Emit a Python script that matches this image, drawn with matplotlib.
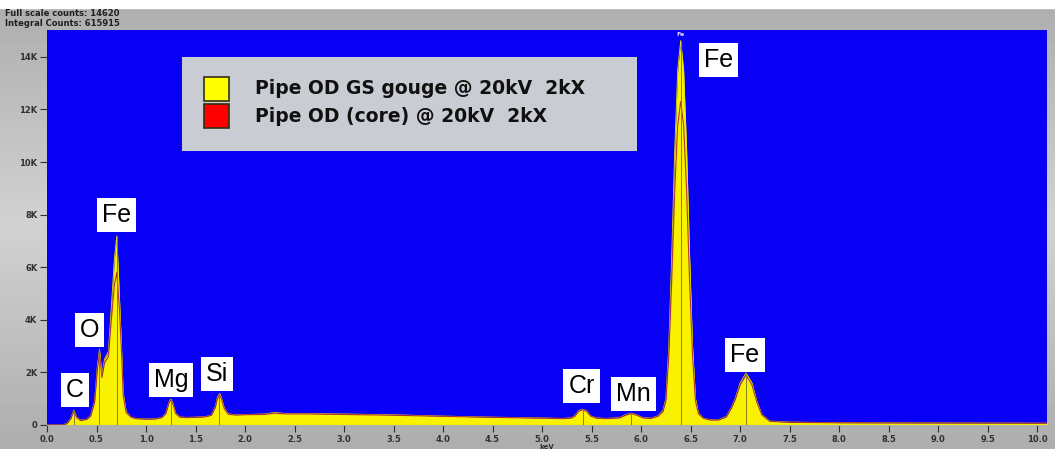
import matplotlib as mpl
mpl.use('Agg')
import matplotlib.pyplot as plt
from matplotlib.patches import Rectangle
import numpy as np

# spectrum: energy (keV) and counts
kev = [0.00, 0.15, 0.20, 0.24, 0.27, 0.30, 0.34, 0.40, 0.44, 0.48, 0.51, 0.53,
       0.555, 0.58, 0.62, 0.65, 0.68, 0.705, 0.73, 0.75, 0.77, 0.80, 0.85, 0.90,
       1.00, 1.10, 1.16, 1.20, 1.23, 1.25, 1.27, 1.30, 1.34, 1.40, 1.50, 1.60,
       1.66, 1.70, 1.72, 1.745, 1.76, 1.79, 1.83, 1.90, 2.00, 2.20, 2.30, 2.40,
       2.60, 3.00, 3.50, 4.00, 4.50, 5.00, 5.20, 5.29, 5.33, 5.37, 5.41, 5.45,
       5.49, 5.55, 5.65, 5.78, 5.85, 5.90, 5.95, 6.02, 6.10, 6.17, 6.22, 6.25,
       6.28, 6.31, 6.34, 6.37, 6.40, 6.43, 6.46, 6.49, 6.52, 6.55, 6.58, 6.63,
       6.70, 6.78, 6.86, 6.91, 6.95, 7.00, 7.06, 7.12, 7.17, 7.22, 7.30, 7.50,
       8.00, 9.00, 10.10]
gouge = [0, 0, 60, 250, 570, 300, 180, 220, 350, 900, 2300, 2890,
         1900, 2500, 2800, 4500, 6300, 7190, 5000, 3200, 1200, 500, 300, 250,
         230, 240, 290, 450, 850, 990, 850, 450, 310, 290, 300, 320,
         380, 700, 1050, 1200, 1050, 650, 430, 390, 400, 420, 480, 440,
         440, 420, 390, 340, 300, 270, 250, 270, 350, 550, 600, 540,
         350, 270, 250, 280, 400, 450, 400, 280, 260, 350, 550, 1000,
         3000, 6500, 10500, 13500, 14620, 13500, 10500, 6500, 3000, 1000, 450, 260,
         200, 200, 320, 650, 1000, 1600, 1980, 1600, 900, 400, 150, 110,
         90, 80, 70]
core = [0, 0, 50, 230, 540, 280, 170, 210, 330, 850, 2150, 2750,
        1800, 2350, 2600, 4000, 5300, 5800, 4500, 3000, 1100, 470, 290, 240,
        220, 230, 280, 430, 820, 950, 820, 430, 300, 280, 290, 310,
        370, 670, 1000, 1150, 1000, 620, 410, 380, 390, 400, 450, 420,
        420, 400, 370, 330, 290, 260, 240, 260, 330, 520, 580, 520,
        340, 260, 240, 270, 380, 430, 380, 270, 250, 330, 500, 900,
        2600, 5500, 8900, 11400, 12300, 11400, 8900, 5500, 2600, 900, 420, 250,
        190, 190, 300, 620, 950, 1520, 1900, 1520, 860, 380, 140, 100,
        85, 75, 65]

# element labels: name, line energy, marker top, label position (keV, counts)
elements = ['C', 'O', 'Fe', 'Mg', 'Si', 'Cr', 'Mn', 'Fe', 'Fe']
line_kev = [0.277, 0.525, 0.705, 1.254, 1.740, 5.411, 5.899, 6.400, 7.058]
line_top = [570, 2890, 7190, 990, 1200, 600, 450, 14620, 1980]
label_x = [0.28, 0.43, 0.70, 1.25, 1.72, 5.40, 5.92, 6.78, 7.05]
label_y = [1330, 3610, 7980, 1710, 1940, 1480, 1180, 13880, 2660]

legend_names = ['Pipe OD GS gouge @ 20kV  2kX', 'Pipe OD (core) @ 20kV  2kX']
legend_colors = ['#ffff00', '#ff0000']

W, H = 1055, 449
fig = plt.figure(figsize=(W / 100, H / 100), dpi=100)

# gray gradient background
bg = fig.add_axes([0, 0, 1, 1])
grad = np.concatenate([np.linspace(0.68, 0.82, 60), np.linspace(0.82, 0.68, 60)])
bg.imshow(grad[:, None], aspect='auto', cmap='gray', vmin=0, vmax=1,
          extent=[0, 1, 0, 1], interpolation='bicubic')
bg.add_patch(Rectangle((0, 1 - 8 / H), 1, 8 / H, color='white'))
bg.set_xlim(0, 1)
bg.set_ylim(0, 1)
bg.axis('off')

fig.text(5 / W, 1 - 14 / H, 'Full scale counts: 14620', fontsize=6, fontweight='bold',
         color='#202020', va='center')
fig.text(5 / W, 1 - 24 / H, 'Integral Counts: 615915', fontsize=6, fontweight='bold',
         color='#202020', va='center')

left, right, top, bottom = 47, 1047, 30, 425
ax = fig.add_axes([left / W, 1 - bottom / H, (right - left) / W, (bottom - top) / H])
ax.set_facecolor('#0800f4')
ax.set_xlim(0, 10.1)
ax.set_ylim(0, 15020)

ax.fill_between(kev, gouge, color='#f8f200', lw=0)
ax.plot(kev, gouge, color='#e8e000', lw=0.6)
ax.plot(kev, core, color='#a01040', lw=0.8, alpha=0.8)
ax.vlines(line_kev, 0, line_top, color='#8a8020', lw=0.7)

for name, x, y in zip(elements, label_x, label_y):
    ax.text(x, y, name, fontsize=18, family='Liberation Sans', ha='center', va='center',
            bbox=dict(boxstyle='square,pad=0.2', fc='white', ec='none'))
ax.text(6.40, 14830, 'Fe', fontsize=4.5, fontweight='bold', color='#e0e0ff',
        ha='center', va='center')

ax.set_xticks(np.arange(0, 10.01, 0.5))
ax.set_xticklabels(['%.1f' % t for t in np.arange(0, 10.01, 0.5)])
ax.set_yticks(np.arange(0, 14001, 2000))
ax.set_yticklabels(['0'] + ['%dK' % (v // 1000) for v in range(2000, 14001, 2000)])
ax.tick_params(direction='out', length=5, width=0.8, color='#303030', labelsize=6,
               labelcolor='#303030', pad=2)
for lab in ax.get_xticklabels() + ax.get_yticklabels():
    lab.set_fontweight('bold')
for s in ax.spines.values():
    s.set_visible(False)
ax.spines['bottom'].set_visible(True)
ax.spines['bottom'].set_color('#b0b0a0')
ax.set_xlabel('keV', fontsize=5, fontweight='bold', color='#303030', labelpad=0)

# legend box drawn by hand
lx0, ly0, lx1, ly1 = 182, 57, 637, 151
fig.patches.append(Rectangle((lx0 / W, 1 - ly1 / H), (lx1 - lx0) / W, (ly1 - ly0) / H,
                             transform=fig.transFigure, fc='#c9ccd2', ec='none', zorder=5))
for i, (nm, c) in enumerate(zip(legend_names, legend_colors)):
    yc = 89 + i * 27
    fig.patches.append(Rectangle((204 / W, 1 - (yc + 12) / H), 25 / W, 24 / H,
                                 transform=fig.transFigure, fc=c, ec='#303010', lw=1.2, zorder=6))
    fig.text(255 / W, 1 - yc / H, nm, fontsize=13.5, fontweight='bold', color='#101010',
             va='center', ha='left', zorder=7)

fig.savefig('out.png', dpi=100)
